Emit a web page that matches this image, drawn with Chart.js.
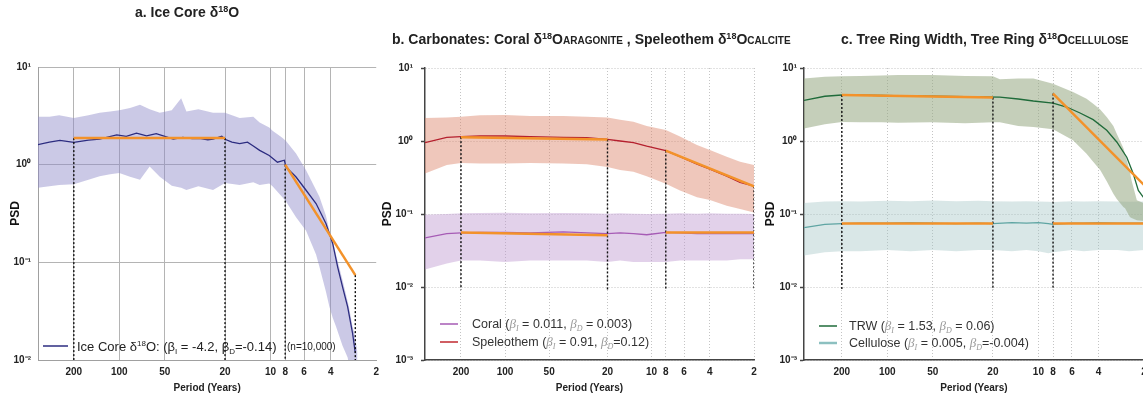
<!DOCTYPE html>
<html><head><meta charset="utf-8">
<script src="https://cdn.jsdelivr.net/npm/chart.js@4.4.1/dist/chart.umd.min.js"></script>
<style>
html,body{margin:0;padding:0;width:1143px;height:400px;overflow:hidden;background:#fff;}
.p{position:absolute;top:0;height:400px;}
canvas{display:block;}
</style></head><body>
<div class="p" style="left:0;width:385px"><canvas id="ca" width="385" height="400"></canvas></div>
<div class="p" style="left:375px;width:425px"><canvas id="cb" width="425" height="400"></canvas></div>
<div class="p" style="left:762px;width:392px"><canvas id="cc" width="392" height="400"></canvas></div>
<script>
// ================= DATA =================
const X_TICKS = [200, 100, 50, 20, 10, 8, 6, 4, 2];
const Y_TICKS_A = [10, 1, 0.1, 0.01];
const Y_TICKS_BC = [10, 1, 0.1, 0.01, 0.001];

// Panel a: Ice core d18O
const ICE_PERIOD = [346,290,247,200,160,135,104,90,77,66,57,50,44,38,33,29.5,26,24,21,20,18,16,14.2,13,11.8,10.2,9.0,8.1,7.9,6.78,5.82,5.0,4.3,3.88,3.6,3.34,3.09,2.87,2.75];
const ICE_PSD = [1.6,1.7,1.77,1.69,1.78,1.83,2.02,1.95,2.1,1.97,2.08,1.95,1.83,1.9,1.85,1.86,1.8,1.83,1.95,1.82,1.7,1.64,1.70,1.55,1.40,1.24,1.06,1.11,0.945,0.747,0.547,0.40,0.25,0.156,0.090,0.056,0.035,0.019,0.0118];
const ICE_BAND_PERIOD = [346,290,250,200,160,135,115,100,85,73,63,54,45,39,36,30,24,20,16,13,11.8,10.2,9.7,8.4,7.9,6.78,5.82,5.0,4.75,4.3,4.08,3.88,3.69,3.34,3.09,3.03,2.87,2.79,2.66];
const ICE_UPPER = [3.1,3.1,3.2,3.0,3.2,3.4,3.5,3.6,3.8,4.1,3.7,3.4,3.6,4.8,3.5,3.7,3.4,3.4,3.0,3.1,2.7,2.4,2.23,1.9,1.75,1.3,0.875,0.55,0.47,0.3,0.21,0.165,0.12,0.066,0.04,0.035,0.022,0.019,0.012];
const ICE_LOWER = [0.58,0.6,0.62,0.63,0.7,0.76,0.8,0.82,0.75,0.7,0.96,0.75,0.61,0.58,0.55,0.6,0.55,0.65,0.62,0.66,0.62,0.64,0.6,0.47,0.42,0.29,0.21,0.12,0.09,0.05,0.035,0.027,0.022,0.014,0.0106,0.009,0.006,0.005,0.004];
const ICE_FIT_PERIOD = [[200, 20], [8, 2.75]];
const ICE_FIT_PSD = [[1.87, 1.87], [1.0, 0.074]];
const ICE_BREAK_PERIOD = [200, 20, 8, 2.75];
const ICE_BREAK_TOP = [1.87, 1.87, 1.0, 0.074];
const ICE_BREAK_BOTTOM = 0.01;

// Panel b: Carbonates
const CARB_PERIOD = [352,250,200,148,100,67.6,40,27.7,20,16.4,13.3,10.8,8,6.4,4.9,4,3.07,2.49,2];
const SPEL_PSD = [0.95,1.12,1.15,1.17,1.17,1.15,1.12,1.11,1.05,1.0,0.95,0.85,0.74,0.61,0.48,0.41,0.33,0.27,0.24];
const SPEL_UPPER = [2.06,2.1,2.15,2.25,2.27,2.2,2.2,2.15,2.1,1.95,1.84,1.6,1.41,1.15,0.88,0.75,0.61,0.52,0.47];
const SPEL_LOWER = [0.36,0.47,0.5,0.49,0.49,0.5,0.49,0.48,0.44,0.4,0.38,0.33,0.26,0.21,0.17,0.155,0.13,0.117,0.105];
const CORAL_PSD = [0.047,0.054,0.055,0.056,0.056,0.055,0.057,0.055,0.054,0.055,0.054,0.052,0.056,0.055,0.054,0.054,0.054,0.054,0.054];
const CORAL_UPPER = [0.098,0.1,0.102,0.103,0.104,0.102,0.103,0.102,0.101,0.102,0.101,0.1,0.101,0.102,0.101,0.102,0.101,0.101,0.1];
const CORAL_LOWER = [0.0173,0.021,0.023,0.023,0.022,0.023,0.023,0.023,0.022,0.023,0.022,0.022,0.022,0.023,0.023,0.023,0.023,0.024,0.024];
const SPEL_FIT_PERIOD = [[200, 20], [8, 2]];
const SPEL_FIT_PSD = [[1.13, 1.05], [0.74, 0.24]];
const CORAL_FIT_PERIOD = [[200, 20], [8, 2]];
const CORAL_FIT_PSD = [[0.056, 0.051], [0.056, 0.056]];
const CARB_BREAK_PERIOD = [200, 20, 8, 2];
const CARB_BREAK_TOP = [1.13, 1.05, 0.74, 0.24];
const CARB_BREAK_BOTTOM = 0.0092;

// Panel c: Tree rings
const TRW_PERIOD = [356,259,200,150,109,75,51,30.6,18,13.6,10.8,8,6.5,5.3,4.34,3.53,3.03,2.6,2.36,2.18,2.04,2.0];
const TRW_PSD = [3.6,4.1,4.27,4.25,4.2,4.15,4.1,4.05,4.0,3.76,3.53,3.31,2.92,2.42,1.96,1.40,0.97,0.60,0.36,0.21,0.175,0.165];
const TRW_BAND_PERIOD = [356,259,200,150,109,85,51,30.6,20,18,13.6,10.8,8,5.9,4.8,4.34,3.9,3.53,3.19,3.03,2.74,2.67,2.48,2.42,2.23,2.0];
const TRW_UPPER = [7.2,7.6,7.7,7.8,7.9,8.0,8.0,7.8,7.7,7.0,7.2,7.16,6.1,4.7,3.8,3.25,2.7,2.13,1.6,1.26,0.8,0.67,0.38,0.29,0.154,0.14];
const TRW_LOWER = [1.48,1.7,1.82,1.8,1.8,1.78,1.8,1.75,1.8,1.8,1.6,1.55,1.45,1.02,0.67,0.52,0.40,0.28,0.19,0.16,0.125,0.12,0.091,0.088,0.082,0.08];
const CELL_PERIOD = [356,259,200,150,100,70,50,35,25,20,15,12,10,8.6,8,6,5,4,3,2.5,2];
const CELL_PSD = [0.065,0.072,0.074,0.075,0.075,0.076,0.075,0.074,0.075,0.074,0.076,0.075,0.076,0.074,0.072,0.075,0.075,0.076,0.075,0.075,0.075];
const CELL_UPPER = [0.141,0.148,0.15,0.148,0.152,0.15,0.153,0.15,0.152,0.15,0.148,0.15,0.148,0.147,0.146,0.15,0.148,0.15,0.148,0.147,0.148];
const CELL_LOWER = [0.027,0.03,0.031,0.031,0.032,0.031,0.032,0.031,0.032,0.032,0.031,0.032,0.031,0.029,0.030,0.032,0.031,0.032,0.032,0.031,0.032];
const TRW_FIT_PERIOD = [[200, 20], [8, 2]];
const TRW_FIT_PSD = [[4.27, 3.93], [4.46, 0.25]];
const CELL_FIT_PERIOD = [[200, 20], [8, 2]];
const CELL_FIT_PSD = [[0.074, 0.074], [0.074, 0.074]];
const TREE_BREAK_PERIOD = [200, 20, 8];
const TREE_BREAK_TOP = [4.27, 3.93, 4.46];
const TREE_BREAK_BOTTOM = 0.0092;

// ================= STYLE / HELPERS =================
const F = '"Liberation Sans", Arial, Helvetica, sans-serif';
const SERIF = '"Liberation Serif", "DejaVu Serif", serif';
const ORANGE = '#f3922a';
const SUP = {'1':'10\u00B9','0':'10\u2070','-1':'10\u207B\u00B9','-2':'10\u207B\u00B2','-3':'10\u207B\u00B3'};
const B = s => 'bold ' + s + 'px ' + F;
const R = s => s + 'px ' + F;
const IT = s => 'italic ' + s + 'px ' + SERIF;

function xy(xs, ys){ return xs.map((x, i) => ({x: x, y: ys[i]})); }
function bandSets(xs, up, lo, color, order){
  return [
    {data: xy(xs, up), borderWidth: 0, pointRadius: 0, backgroundColor: color, fill: '+1', order: order},
    {data: xy(xs, lo), borderWidth: 0, pointRadius: 0, backgroundColor: 'rgba(0,0,0,0)', fill: false, order: order}
  ];
}
function lineSet(xs, ys, color, w){
  return {data: xy(xs, ys), borderColor: color, borderWidth: w, pointRadius: 0, fill: false, order: 10};
}
function fitSets(ps, vs){
  return ps.map((p, i) => ({data: xy(p, vs[i]), borderColor: ORANGE, borderWidth: 2.5, pointRadius: 0, fill: false, order: 1}));
}
function breakSets(ps, tops, bottom){
  return ps.map((p, i) => ({data: [{x: p, y: tops[i]}, {x: p, y: bottom}], borderColor: '#111', borderWidth: 1.4,
    borderDash: [2, 2], pointRadius: 0, fill: false, order: 3}));
}
function rich(ctx, x, y, parts, align){
  let w = 0;
  parts.forEach(p => { ctx.font = p[1]; w += ctx.measureText(p[0]).width; });
  let cx = align === 'center' ? x - w / 2 : x;
  ctx.textAlign = 'left'; ctx.textBaseline = 'alphabetic';
  parts.forEach(p => {
    ctx.font = p[1]; ctx.fillStyle = p[2] || '#222';
    ctx.fillText(p[0], cx, y + (p[3] || 0));
    cx += ctx.measureText(p[0]).width;
  });
}
function swatch(ctx, x1, x2, y, color, w){
  ctx.save(); ctx.strokeStyle = color; ctx.lineWidth = w; ctx.beginPath();
  ctx.moveTo(x1, y); ctx.lineTo(x2, y); ctx.stroke(); ctx.restore();
}

function makeOptions(c){
  return {
    responsive: false, animation: false, events: [],
    layout: {padding: {top: c.top, right: c.right, left: 0, bottom: 0}},
    plugins: {legend: {display: false}, tooltip: {enabled: false}},
    elements: {line: {tension: 0}},
    scales: {
      x: {
        type: 'logarithmic', reverse: true, min: 2, max: c.xmax,
        afterBuildTicks: s => { s.ticks = X_TICKS.map(v => ({value: v})); },
        afterFit: s => { s.height = 40; },
        ticks: {autoSkip: false, maxRotation: 0, minRotation: 0, padding: 6, color: '#222',
          font: {family: F, size: 10, weight: 'bold'}, callback: v => String(v)},
        grid: c.xgrid, border: c.xborder,
        title: {display: true, text: 'Period (Years)', color: '#222',
          font: {family: F, size: 10, weight: 'bold'}, padding: {top: 0, bottom: 6}}
      },
      y: {
        type: 'logarithmic', min: c.ymin, max: 10,
        afterBuildTicks: s => { s.ticks = c.yticks.map(v => ({value: v})); },
        afterFit: s => { s.width = c.yw; },
        ticks: {autoSkip: false, padding: c.ypad, color: '#222',
          font: {family: F, size: 10, weight: 'bold'}, callback: v => SUP[String(Math.round(Math.log10(v)))]},
        grid: c.ygrid, border: c.yborder,
        title: {display: true, text: 'PSD', color: '#111',
          font: {family: F, size: 12, weight: 'bold'}, padding: {top: c.tpad, bottom: 0}}
      }
    }
  };
}

// ================= PANEL A =================
const gridA = {color: ctx => (ctx.tick && ctx.tick.value === 2) ? 'rgba(0,0,0,0)' : '#b4b4b4', drawTicks: false, lineWidth: 1};
new Chart(document.getElementById('ca'), {
  type: 'line',
  data: {datasets: [
    ...bandSets(ICE_BAND_PERIOD, ICE_UPPER, ICE_LOWER, 'rgba(140,135,200,0.45)', 20),
    lineSet(ICE_PERIOD, ICE_PSD, '#2c2c80', 1.3),
    ...breakSets(ICE_BREAK_PERIOD, ICE_BREAK_TOP, ICE_BREAK_BOTTOM),
    ...fitSets(ICE_FIT_PERIOD, ICE_FIT_PSD)
  ]},
  options: makeOptions({top: 67, right: 8, xmax: 345, ymin: 0.01, yticks: Y_TICKS_A, yw: 38, ypad: 7, tpad: 8,
    xgrid: gridA, xborder: {color: '#a0a0a0', width: 1},
    ygrid: {color: '#b4b4b4', drawTicks: false, lineWidth: 1}, yborder: {color: '#a0a0a0', width: 1}}),
  plugins: [{id: 'txtA', afterDraw(chart){
    const ctx = chart.ctx; ctx.save();
    rich(ctx, 187, 17, [['a. Ice Core \u03B4', B(14)], ['18', B(9), null, -5.5], ['O', B(14)]], 'center');
    swatch(ctx, 43, 68, 346, '#2c2c80', 1.5);
    rich(ctx, 77, 351, [['Ice Core \u03B4', R(13)], ['18', R(8), null, -5], ['O: (\u03B2', R(13)], ['I', R(8), null, 3],
      [' = -4.2, \u03B2', R(13)], ['D', R(8), null, 3], ['=-0.14)', R(13)]]);
    rich(ctx, 287, 350, [['(n=10,000)', R(10)]]);
    ctx.restore();
  }}]
});

// ================= PANEL B =================
const dotGrid = {color: '#c4c4c4', drawTicks: false, lineWidth: 1};
const dotBorder = {color: '#444', width: 1.5, dash: [1, 2]};
new Chart(document.getElementById('cb'), {
  type: 'line',
  data: {datasets: [
    ...bandSets(CARB_PERIOD, SPEL_UPPER, SPEL_LOWER, 'rgba(220,130,105,0.45)', 20),
    ...bandSets(CARB_PERIOD, CORAL_UPPER, CORAL_LOWER, 'rgba(185,145,205,0.42)', 21),
    lineSet(CARB_PERIOD, SPEL_PSD, '#b5202e', 1.3),
    lineSet(CARB_PERIOD, CORAL_PSD, '#a65bb5', 1.3),
    ...breakSets(CARB_BREAK_PERIOD, CARB_BREAK_TOP, CARB_BREAK_BOTTOM),
    ...fitSets(SPEL_FIT_PERIOD, SPEL_FIT_PSD),
    ...fitSets(CORAL_FIT_PERIOD, CORAL_FIT_PSD)
  ]},
  options: makeOptions({top: 68, right: 46, xmax: 352, ymin: 0.001, yticks: Y_TICKS_BC, yw: 50, ypad: 8, tpad: 5,
    xgrid: dotGrid, xborder: dotBorder,
    ygrid: {color: '#c4c4c4', drawTicks: true, tickLength: 4, tickColor: '#444', tickWidth: 1.5, lineWidth: 1}, yborder: dotBorder}),
  plugins: [{id: 'txtB', afterDraw(chart){
    const ctx = chart.ctx; ctx.save();
    rich(ctx, 17, 44, [['b. Carbonates: Coral \u03B4', B(14)], ['18', B(9), null, -5.5], ['O', B(14)], ['ARAGONITE', B(10)],
      [' , Speleothem \u03B4', B(14)], ['18', B(9), null, -5.5], ['O', B(14)], ['CALCITE', B(10)]]);
    swatch(ctx, 65, 83, 324, '#a65bb5', 1.5);
    swatch(ctx, 65, 83, 342, '#c0282f', 1.5);
    const g = '#9a9a9a', t = '#333';
    rich(ctx, 97, 328, [['Coral (', R(12.5), t], ['\u03B2', IT(13), g], ['I', IT(8), g, 3], [' = 0.011, ', R(12.5), t],
      ['\u03B2', IT(13), g], ['D', IT(8), g, 3], [' = 0.003)', R(12.5), t]]);
    rich(ctx, 97, 346, [['Speleothem (', R(12.5), t], ['\u03B2', IT(13), g], ['I', IT(8), g, 3], [' = 0.91, ', R(12.5), t],
      ['\u03B2', IT(13), g], ['D', IT(8), g, 3], ['=0.12)', R(12.5), t]]);
    ctx.restore();
  }}]
});

// ================= PANEL C =================
new Chart(document.getElementById('cc'), {
  type: 'line',
  data: {datasets: [
    ...bandSets(TRW_BAND_PERIOD, TRW_UPPER, TRW_LOWER, 'rgba(150,168,130,0.55)', 20),
    ...bandSets(CELL_PERIOD, CELL_UPPER, CELL_LOWER, 'rgba(160,195,195,0.4)', 21),
    lineSet(TRW_PERIOD, TRW_PSD, '#1f6b3a', 1.3),
    lineSet(CELL_PERIOD, CELL_PSD, '#5fa5a3', 1.3),
    ...breakSets(TREE_BREAK_PERIOD, TREE_BREAK_TOP, TREE_BREAK_BOTTOM),
    ...fitSets(TRW_FIT_PERIOD, TRW_FIT_PSD),
    ...fitSets(CELL_FIT_PERIOD, CELL_FIT_PSD)
  ]},
  options: makeOptions({top: 68, right: 10, xmax: 356, ymin: 0.001, yticks: Y_TICKS_BC, yw: 42, ypad: 3, tpad: 1,
    xgrid: dotGrid, xborder: dotBorder,
    ygrid: {color: '#c4c4c4', drawTicks: true, tickLength: 4, tickColor: '#444', tickWidth: 1.5, lineWidth: 1}, yborder: dotBorder}),
  plugins: [{id: 'txtC', afterDraw(chart){
    const ctx = chart.ctx; ctx.save();
    rich(ctx, 79, 44, [['c. Tree Ring Width, Tree Ring \u03B4', B(14)], ['18', B(9), null, -5.5], ['O', B(14)], ['CELLULOSE', B(10)]]);
    swatch(ctx, 57, 75, 326, '#1f6b3a', 1.5);
    swatch(ctx, 57, 75, 343, '#8cc0c0', 2.5);
    const g = '#9a9a9a', t = '#333';
    rich(ctx, 87, 330, [['TRW (', R(12.5), t], ['\u03B2', IT(13), g], ['I', IT(8), g, 3], [' = 1.53, ', R(12.5), t],
      ['\u03B2', IT(13), g], ['D', IT(8), g, 3], [' = 0.06)', R(12.5), t]]);
    rich(ctx, 87, 347, [['Cellulose (', R(12.5), t], ['\u03B2', IT(13), g], ['I', IT(8), g, 3], [' = 0.005, ', R(12.5), t],
      ['\u03B2', IT(13), g], ['D', IT(8), g, 3], ['=-0.004)', R(12.5), t]]);
    ctx.restore();
  }}]
});
</script>
</body></html>
